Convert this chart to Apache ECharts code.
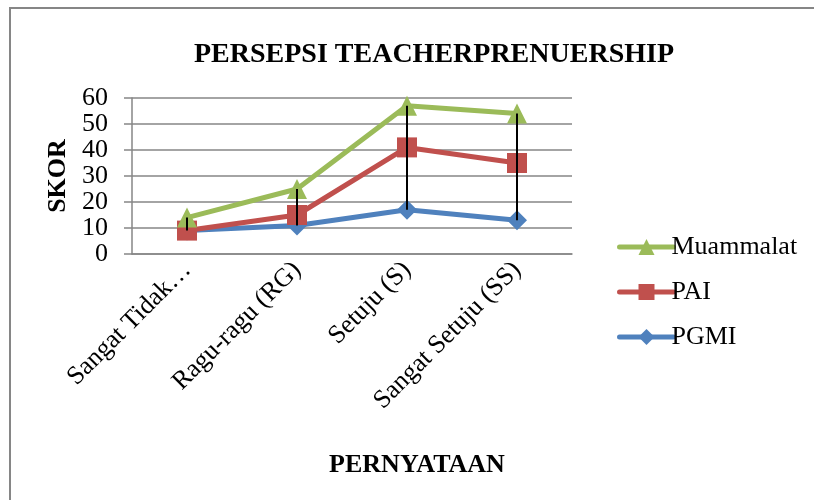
<!DOCTYPE html>
<html>
<head>
<meta charset="utf-8">
<script src="https://cdn.jsdelivr.net/npm/echarts@6/dist/echarts.min.js"></script>
<style>html,body{margin:0;padding:0;background:#fff;}#c{width:814px;height:500px;}</style>
</head>
<body>
<div id="c"></div>
<script>
var categories = ['Sangat Tidak…', 'Ragu-ragu (RG)', 'Setuju (S)', 'Sangat Setuju (SS)'];
var pgmi = [9, 11, 17, 13];
var pai = [9, 15, 41, 35];
var muammalat = [14, 25, 57, 54];
var yTicks = {min: 0, max: 60, interval: 10};

var FONT = '"Liberation Serif", "Times New Roman", serif';
var hiLo = categories.map(function (c, i) {
  var vals = [pgmi[i], pai[i], muammalat[i]];
  return [i, Math.min.apply(null, vals), Math.max.apply(null, vals)];
});

var chart = echarts.init(document.getElementById('c'), null, {renderer: 'canvas'});
chart.setOption({
  animation: false,
  backgroundColor: '#fff',
  graphic: [{
    type: 'rect', z: -1,
    shape: {x: 10, y: 8, width: 900, height: 600},
    style: {fill: 'none', stroke: '#868686', lineWidth: 2}
  }],
  title: {
    text: 'PERSEPSI TEACHERPRENUERSHIP',
    left: 429, top: 36, textAlign: 'center',
    textStyle: {fontFamily: FONT, fontSize: 28, fontWeight: 'bold', color: '#000'}
  },
  legend: {
    orient: 'vertical', left: 612, top: 229,
    itemWidth: 54, itemHeight: 20, itemGap: 19,
    data: ['Muammalat', 'PAI', 'PGMI'],
    lineStyle: {width: 5, cap: 'round'},
    textStyle: {fontFamily: FONT, fontSize: 26, color: '#000', padding: [0, 0, 0, -7]}
  },
  grid: {left: 132, right: 242, top: 98, bottom: 246},
  xAxis: {
    type: 'category', data: categories, boundaryGap: true,
    axisLine: {lineStyle: {color: '#868686', width: 1.5}},
    axisTick: {show: false},
    axisLabel: {rotate: 45, margin: 12, interval: 0, fontFamily: FONT, fontSize: 26, color: '#000'},
    name: 'PERNYATAAN', nameLocation: 'middle', nameGap: 198,
    nameTextStyle: {fontFamily: FONT, fontSize: 26, fontWeight: 'bold', color: '#000', padding: [0, 0, 0, 130]}
  },
  yAxis: {
    type: 'value', min: yTicks.min, max: yTicks.max, interval: yTicks.interval,
    axisLine: {show: true, lineStyle: {color: '#868686', width: 1.5}},
    axisTick: {show: true, length: 8, lineStyle: {color: '#868686', width: 1.5}},
    splitLine: {lineStyle: {color: '#868686', width: 1.5}},
    axisLabel: {margin: 24, fontFamily: FONT, fontSize: 26, color: '#000'},
    name: 'SKOR', nameLocation: 'middle', nameRotate: 90, nameGap: 55,
    nameTextStyle: {fontFamily: FONT, fontSize: 26, fontWeight: 'bold', color: '#000'}
  },
  series: [
    {name: 'PGMI', type: 'line', data: pgmi, symbol: 'diamond', symbolSize: 20,
      lineStyle: {color: '#4F81BD', width: 5}, itemStyle: {color: '#4F81BD'}, z: 2},
    {name: 'PAI', type: 'line', data: pai, symbol: 'rect', symbolSize: 20,
      lineStyle: {color: '#C0504D', width: 5}, itemStyle: {color: '#C0504D'}, z: 3},
    {name: 'Muammalat', type: 'line', data: muammalat, symbol: 'triangle', symbolSize: 20,
      lineStyle: {color: '#9BBB59', width: 5}, itemStyle: {color: '#9BBB59'}, z: 4},
    {name: 'hilo', type: 'custom', z: 10, data: hiLo,
      encode: {x: 0, y: [1, 2]},
      renderItem: function (params, api) {
        var p1 = api.coord([api.value(0), api.value(1)]);
        var p2 = api.coord([api.value(0), api.value(2)]);
        return {type: 'line', shape: {x1: p1[0], y1: p1[1], x2: p2[0], y2: p2[1]},
          style: {stroke: '#000', lineWidth: 2}};
      }}
  ]
});
</script>
</body>
</html>
